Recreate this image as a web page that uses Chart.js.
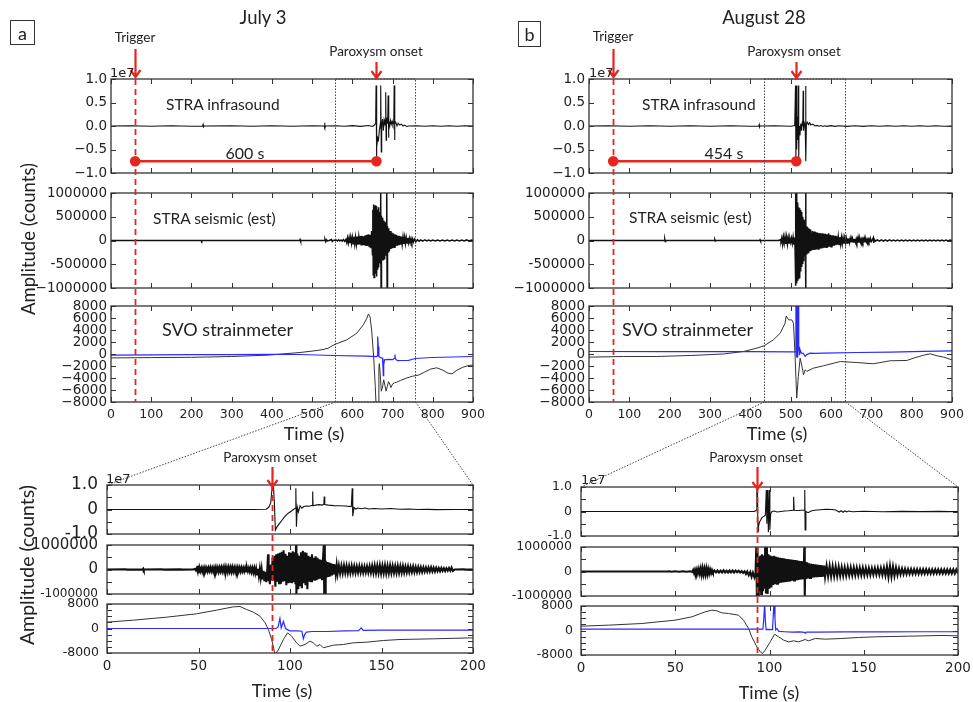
<!DOCTYPE html>
<html><head><meta charset="utf-8">
<script src="https://cdn.jsdelivr.net/npm/chart.js@4.4.0/dist/chart.umd.min.js"></script>
<style>
html,body{margin:0;padding:0;background:#fff;}
#fig{position:relative;width:973px;height:702px;overflow:hidden;background:#fff;font-family:Lato,sans-serif;color:#222;}
#fig canvas{position:absolute;}
.t{position:absolute;white-space:nowrap;line-height:1;transform:translate(-50%,-50%);}
.l{position:absolute;white-space:nowrap;line-height:1;transform:translate(0,-50%);}
.r{position:absolute;white-space:nowrap;line-height:1;transform:translate(-50%,-50%) rotate(-90deg);}
.box{position:absolute;border:1.5px solid #333;box-sizing:border-box;text-align:center;font-size:18px;display:flex;align-items:center;justify-content:center;}
</style></head><body><div id="fig"></div>
<script>
// ================= DATA =================
// event times (s)
const trigJul = 60, onsetJul = 660, zoomJul = [557, 757], zoomOnsetJul = 90;
const trigAug = 60, onsetAug = 514, zoomAug = [434, 634], zoomOnsetAug = 93.5;
const markLevel = -0.75; // 1e7 counts, level of the red delay bar

// tick values / labels
const timeTicksTop = [0,100,200,300,400,500,600,700,800,900];
const timeTicksZoom = [0,50,100,150,200];
const infraTicks = [-1,-0.5,0,0.5,1];
const infraLabels = ['\u22121.0','\u22120.5','0.0','0.5','1.0'];
const seisTicks = [-1000000,-500000,0,500000,1000000];
const seisLabels = ['\u22121000000','-500000','0','500000','1000000'];
const strainTicks = [-8000,-6000,-4000,-2000,0,2000,4000,6000,8000];
const strainLabels = ['\u22128000','\u22126000','\u22124000','\u22122000','0','2000','4000','6000','8000'];
const infraZLabels = ['-1.0','','0','','1.0'];
const seisZLabels = ['-1000000','','0','','1000000'];
const strainZLabels = ['-8000','','','','0','','','','8000'];

// ---- July 3 : STRA infrasound [t s, 1e7 counts]
const infraJul = [[0,0],[50,0.004],[100,-0.004],[150,0.004],[200,-0.004],[228,0],[229,0.03],[230,-0.02],[232,0],[300,0.004],[350,-0.004],[400,0.004],[450,-0.004],[500,0.004],[530,0],[531,0.07],[532,-0.04],[534,0],[560,0.006],[580,-0.006],[600,0.008],[620,-0.008],[640,0.01],[650,-0.01],[655,0.02],[658,0.06],
[659,0.86],[660,-0.76],[661,-0.45],[663,-0.25],[665,-0.3],[667,-0.1],[669,0.02],[670,-0.05],[671,0.86],[672,-0.55],[673,0.0],[675,0.15],[677,-0.1],[679,0.14],[681,0.08],[682,0.12],[683,0.72],[684,-0.3],[685,0.18],[687,0.06],[688,0.12],[689,0.65],[690,-0.25],[691,0.12],[693,0.0],[695,0.12],[697,0.04],[699,0.1],[701,0.02],[703,0.08],[704,0.86],[705,-0.3],[706,0.05],[708,0.08],[711,0.0],[714,0.06],[718,0.02],[722,0.04],[726,0.0],[730,0.02],[735,-0.01],[740,0.0],[760,0.005],[780,-0.005],[800,0.005],[820,-0.005],[840,0.005],[860,-0.005],[880,0.005],[900,0]];

// ---- July 3 : STRA seismic [t s, 1000 counts]
const seisJul = [[0,0],[224,0],[225,18],[226,-18],[227,0],[469,0],[470,20],[471,-20],[472,0],[530,0],[532,25],[534,-25],[536,15],[538,-10],[542,0],[548,20],[550,-20],[552,0],[560,10],[563,-10],[566,15],[569,-12],[572,10],[575,-15],[578,20],[581,-18],[584,25],[586,-40],[588,55],[590,-50],[592,60],[594,-55],[596,70],[598,-60],[600,65],[602,-70],[604,80],[606,-75],[608,70],[610,-80],[612,85],[614,-90],[616,80],[618,-85],[620,95],[622,-90],[624,100],[626,-95],[628,90],[630,-105],[632,110],[634,-100],[636,120],[638,-110],[640,130],[642,-140],[644,120],[646,-160],[648,200],[650,-300],[651,650],[652,-720],[653,760],[654,-780],[655,700],[656,-620],[657,740],[658,-700],[659,720],[660,-760],[661,680],[662,-600],[663,650],[664,-550],[665,700],[666,-520],[667,600],[668,-480],[669,560],[670,-500],[671,1050],[671.5,-1050],[672,520],[673,-450],[674,480],[675,-420],[676,450],[677,-400],[678,420],[679,-380],[680,400],[681,-350],[682,380],[683,-320],[684,340],[685,-300],[686,1050],[686.5,-1050],[687,300],[688,-280],[689,260],[690,-250],[691,240],[692,-220],[694,200],[696,-180],[698,170],[700,-160],[702,150],[704,-140],[706,130],[708,-120],[710,120],[712,-110],[714,100],[716,-100],[718,95],[720,-90],[722,85],[724,-80],[726,75],[728,-70],[730,70],[732,-65],[734,60],[736,-55],[738,55],[740,-50],[742,45],[744,-45],[746,40],[748,-38],[750,35],[752,-32],[755,30],[758,-25],[762,20],[766,-15],[770,14],[775,-12],[780,12],[785,-10],[790,10],[795,-10],[800,10],[806,-9],[812,10],[818,-9],[824,9],[830,-10],[836,9],[842,-9],[848,9],[854,-8],[860,8],[866,-9],[872,8],[878,-8],[884,12],[890,-9],[896,8],[900,0]];

// ---- July 3 : SVO strainmeter [t s, counts]
const strainJulBlack = [[0,-650],[100,-600],[200,-550],[300,-420],[390,-190],[470,250],[512,580],[532,800],[535,950],[537,850],[557,1630],[586,2350],[611,3460],[627,4850],[636,5950],[640,6670],[644,6200],[648,4000],[653,-400],[657,-5400],[659,-8500],[664,-8500],[666,-2500],[667,-1600],[669,-3000],[672,-6200],[675,-5500],[678,-4300],[681,-5200],[684,-6200],[687,-5400],[690,-4600],[693,-5000],[696,-5600],[700,-5000],[705,-4800],[710,-4700],[720,-4400],[735,-4000],[750,-3700],[765,-3500],[780,-3000],[795,-2500],[810,-2300],[825,-2700],[838,-3200],[848,-3300],[860,-2700],[875,-2200],[890,-1900],[900,-1850]];
const strainJulBlue = [[0,-200],[100,-150],[200,-120],[300,-100],[400,-60],[470,-80],[553,-250],[636,-360],[660,-420],[662,-300],[663,2900],[664.5,1200],[666,-420],[670,-600],[675,-700],[676,-2000],[677,-3600],[678,-1800],[680,-970],[690,-900],[700,-950],[705,-700],[706,-100],[707,-800],[712,-1100],[720,-1080],[740,-1050],[756,-750],[797,-580],[850,-500],[899,-420]];

// ---- July 3 zoom (0-200 s)
const infraJulZ = [[0,0],[20,0.003],[40,-0.003],[60,0.003],[80,0],[87,0.01],[88.5,0.1],[89.5,0.28],[90.3,0.95],[91,0.9],[91.5,0.2],[92,-0.84],[92.8,-0.72],[94,-0.6],[95.5,-0.45],[97,-0.3],[99,-0.15],[101,-0.05],[102.8,0.05],[103.2,0.87],[103.5,-0.7],[104,0.1],[104.6,-0.1],[105.5,0.15],[106.5,0.05],[107.5,0.12],[109,0.14],[110.5,0.13],[112.2,0.17],[112.4,0.73],[112.6,0.15],[114,0.18],[116,0.2],[117.5,0.18],[118.5,0.22],[118.7,0.53],[119,0.2],[121,0.18],[124,0.16],[127,0.15],[130,0.14],[133.5,0.12],[134,0.87],[134.3,-0.27],[135,0.08],[136,0.02],[137,0.06],[139,0.03],[141,0.06],[143,0.02],[146,0.04],[150,0.02],[155,0.04],[160,0.01],[165,0.02],[170,0],[175,0.005],[180,-0.005],[190,0],[200,0]];
const seisJulZ = [[0,0],[10,5],[11,-5],[19.5,0],[19.8,30],[20.1,-30],[20.4,0],[30,5],[31,-5],[40,5],[41,-5],[47,0],
[48,20],[48.5,-30],[49,50],[49.5,-80],[49.8,150],[50.1,-150],[50.5,80],[51,-70],[51.5,60],[52,-80],[52.5,70],[53,-60],[53.5,80],[54,-70],[54.5,60],[55,-75],[55.5,70],[56,-60],[56.5,80],[57,-70],[57.5,65],[58,-80],[58.5,75],[59,-70],[59.5,90],[60,-80],[60.5,70],[61,-90],[61.5,80],[62,-70],[62.5,85],[63,-75],[63.5,80],[64,-90],[64.5,100],[65,-90],[65.5,80],[66,-100],[66.5,90],[67,-80],[67.5,85],[68,-95],[68.5,90],[69,-80],[69.5,75],[70,-90],[70.5,80],[71,-70],[71.5,85],[72,-80],[72.5,70],[73,-75],[73.5,80],[74,-70],[74.5,65],[75,-75],[75.5,70],[76,-80],[76.5,75],[77,-70],[77.5,60],[78,-80],[78.5,70],[79,-100],[79.5,60],
[80,-120],[80.5,50],[81,-150],[81.5,40],[82,-200],[82.5,30],[83,-260],[83.5,20],[84,-320],[84.5,0],[85,-400],[85.5,-50],[86,-480],[86.5,-100],[87,-520],[87.5,-150],[88,620],[88.3,-480],[88.7,-300],[89,-600],[89.5,200],[90,-450],
[90.5,480],[91,-450],[91.5,560],[92,-700],[92.5,620],[93,-500],[93.5,650],[94,-560],[94.5,680],[95,-580],[95.5,720],[96,-500],[96.5,780],[97,-480],[97.5,640],[98,-640],[98.5,560],[99,-560],[99.5,700],[100,-500],[100.5,680],[101,-560],[101.5,740],[102,-520],[102.5,700],[103,-600],[103.3,1050],[103.5,-1050],[104,650],[104.5,-800],[105,560],[105.5,-640],[106,700],[106.5,-760],[107,760],[107.5,-560],[108,700],[108.5,-640],[109,680],[109.5,-800],[110,560],[110.5,-500],[111,520],[111.5,-480],[112,620],[112.5,-450],[113,480],[113.5,-460],[114,540],[114.5,-440],[115,480],[115.5,-400],[116,420],[116.5,-380],[117,400],[117.5,-400],[118,380],[118.5,1050],[118.7,-1050],[119,1050],[119.2,-1050],[119.5,350],[120,-320],[120.5,300],[121,-300],[121.5,280],[122,-280],[122.5,250],[123,-240],[123.5,220],[124,-200],[124.5,200],[125,-180],[125.5,180],
[126,-170],[126.7,160],[127.4,-160],[128.1,150],[128.8,-150],[129.5,160],[130.2,-140],[130.9,150],[131.6,-150],[132.3,140],[133,-140],[133.7,150],[134.4,-130],[135.1,140],[135.8,-140],[136.5,130],[137.2,-130],[137.9,140],[138.6,-120],[139.3,130],[140,-130],[140.7,120],[141.4,-120],[142.1,130],[142.8,-120],[143.5,140],[144.2,-130],[144.9,150],[145.6,-140],[146.3,160],[147,-150],[147.7,160],[148.4,-150],[149.1,170],[149.8,-160],[150.5,160],[151.2,-150],[151.9,170],[152.6,-160],[153.3,150],[154,-150],[154.7,160],[155.4,-140],[156.1,150],[156.8,-140],[157.5,140],[158.2,-140],[158.9,150],[159.6,-140],[160.3,140],[161,-130],[161.7,140],[162.4,-130],[163.1,120],[163.8,-120],[164.5,130],[165.2,-120],[165.9,110],[166.6,-110],[167.3,120],[168,-110],[168.7,100],[169.4,-110],[170.1,100],[170.8,-100],[171.5,90],[172.2,-100],[172.9,90],[173.6,-90],[174.3,80],[175,-90],[175.7,80],[176.4,-80],[177.1,90],[177.8,-80],[178.5,70],[179.2,-80],[179.9,70],[180.6,-70],[181.3,60],[182,-70],[182.7,60],[183.4,-60],[184.1,50],[184.8,-60],[185.5,50],[186.2,-50],[186.9,60],[187.6,-50],[188.3,80],[189,-60],[190,0],[195,5],[196,-5],[200,0]];
const strainJulZBlack = [[0,2070],[14.4,2720],[32.6,3700],[49,4800],[59.9,6000],[69,7070],[72.7,7180],[76.3,6200],[80,5330],[83.6,4030],[86.4,1850],[88.2,-330],[90,-3590],[91.8,-8500],[93.6,-7000],[96.4,-3590],[98.7,-1410],[100.9,-2500],[103.6,-4680],[105.5,-5770],[108.2,-5220],[110.9,-4130],[112.8,-4680],[114.6,-5770],[116.4,-5220],[118.2,-6310],[120.1,-6000],[123.7,-5440],[129.2,-5220],[134.6,-4680],[141.9,-4460],[151,-3920],[160.1,-3590],[178.3,-3370],[200,-3050]];
const strainJulZBlue = [[0,0],[50,0],[92.4,0],[93.5,500],[94.5,3260],[95.2,200],[96.4,2290],[97.5,100],[98.2,-300],[100,-760],[104,-760],[106.5,-900],[107.3,-3370],[108,-2000],[109,-1200],[112,-980],[120,-980],[130,-760],[137.5,-700],[138.9,220],[140,-600],[150,-540],[170,-540],[200,-540]];

// ---- August 28 : STRA infrasound
const infraAug = [[0,0],[50,0.004],[100,-0.004],[150,0.004],[200,-0.004],[250,0.004],[300,-0.004],[350,0.004],[400,-0.004],[421,0],[422,0.03],[423,-0.02],[424,0],[460,0.005],[500,-0.005],[510,0.01],
[512,0.86],[513,-0.76],[514,0.86],[515,-0.5],[516,0.2],[518,-0.3],[519,0.86],[520,-0.7],[521,0.0],[523,-0.2],[525,0.05],[527,-0.1],[529,0.1],[530,0.0],[531,0.75],[532,-0.1],[534,0.06],[536,0.0],[537,0.85],[538,-0.75],[539,0.05],[541,0.08],[544,0.03],[547,0.07],[550,0.02],[555,0.04],[560,0.0],[565,0.012],[570,-0.006],[575,0.01],[580,-0.01],[585,0.006],[590,-0.008],[600,0.008],[610,-0.008],[620,0.006],[640,-0.008],[660,0.006],[680,-0.008],[700,0.006],[720,-0.006],[740,0.006],[760,-0.006],[780,0.006],[800,-0.006],[820,0.004],[840,-0.004],[860,0.004],[880,-0.004],[900,0]];
// ---- August 28 : STRA seismic (1000 counts)
const seisAug = [[0,0],[187,0],[188,20],[189,-20],[190,0],[311,0],[312,12],[313,-12],[314,0],[423,0],[424,15],[425,-15],[426,0],[470,0],[474,15],[476,-15],[478,60],[480,-80],[482,70],[484,-60],[486,80],[488,-70],[490,75],[492,-80],[494,60],[496,-50],[498,40],[500,-40],[502,50],[504,-60],[506,70],[508,-90],[510,60],[511,-200],[512,1050],[513,-950],[514,1050],[515,-900],[516,800],[517,-850],[518,750],[519,-800],[520,700],[521,-780],[522,680],[523,-720],[524,640],[525,-650],[526,600],[527,-560],[528,560],[529,-480],[530,500],[531,-420],[532,450],[533,-360],[534,420],[535,-330],[536,380],[537,1050],[537.5,-1050],[538,320],[539,-280],[540,300],[541,-260],[542,280],[543,-250],[544,260],[545,-240],[546,240],[547,-230],[548,230],[549,-220],[550,220],[552,-210],[554,200],[556,-200],[558,190],[560,-200],[562,180],[564,-190],[566,170],[568,-180],[570,160],[572,-175],[574,150],[576,-170],[578,150],[580,-160],[582,145],[584,-150],[586,140],[588,-140],[590,130],[592,-140],[594,150],[596,-130],[598,120],[600,-130],[602,110],[604,-120],[606,110],[608,-110],[610,100],[612,-100],[614,90],[616,-90],[618,80],[620,-85],[622,70],[624,-75],[626,65],[628,-70],[630,60],[632,-65],[634,55],[636,-60],[638,50],
[640,-50],[641.5,45],[643,-42],[644.5,40],[646,-40],[647.5,38],[649,-38],[650.5,36],[652,-36],[653.5,35],[655,-34],[656.5,33],[658,-33],[659.5,32],[661,-32],[662.5,31],[664,-30],[665.5,30],[667,-30],[668.5,29],[670,-29],[671.5,28],[673,-28],[674.5,27],[676,-27],[677.5,26],[679,-26],[680.5,25],[682,-25],[683.5,25],[685,-24],[686.5,24],[688,-23],[689.5,23],[691,-22],[692.5,22],[694,-22],[695.5,21],[697,-21],[698.5,20],[700,-20],[703,25],[705,60],[706,-50],[707,30],[710,-15],[715,14],[720,-14],[725,13],[730,-13],[735,12],[740,-12],[745,12],[750,-11],[755,11],[760,-11],[765,11],[770,-10],[775,10],[780,-10],[785,10],[790,-10],[795,10],[800,-10],[805,10],[810,-9],[815,10],[820,-9],[825,9],[830,-9],[835,9],[840,-9],[845,9],[850,-9],[855,9],[860,-8],[865,8],[870,-8],[875,8],[880,-8],[885,8],[890,-8],[895,8],[900,0]];
// ---- August 28 : SVO strainmeter
const strainAugBlack = [[0,-525],[85,-415],[168,-415],[251,-250],[333,0],[383,415],[416,970],[434,1360],[457,2350],[474,3460],[486,5120],[489,6340],[495,5700],[503,5670],[507,5120],[511,-415],[515,-7340],[519,-3740],[523.5,-690],[528,-2080],[532,-3460],[536,-2630],[540,-2900],[548,-2630],[557,-2350],[581.5,-1960],[623,-1250],[664,-1420],[705,-1630],[747,-1130],[788,-1080],[805,-690],[830,-190],[846,30],[863,-300],[879,-520],[900,-970]];
const strainAugBlue = [[0,415],[200,400],[400,380],[500,370],[511,350],[513,9000],[514,-500],[515,9000],[516,200],[517,9000],[518,-600],[519,9000],[520,500],[521,1200],[522,-200],[524,600],[527,140],[531,100],[536,-400],[540,-100],[548,150],[560,100],[581,140],[664,250],[747,300],[830,450],[900,525]];

// ---- August 28 zoom (0-200 s)
const infraAugZ = [[0,0],[20,0.003],[40,-0.003],[60,0.003],[80,-0.003],[92,0],[93,0.05],[93.3,0.9],[93.6,0.88],[93.9,-0.8],[94.2,-0.6],[94.6,-0.45],[95.3,-0.35],[96,-0.25],[97,-0.2],[97.8,-0.15],[98.3,0.88],[98.6,-0.5],[99,0.88],[99.4,-0.85],[99.8,0.88],[100.2,-0.75],[100.6,-0.1],[101.3,0.0],[102.5,0.02],[104,-0.02],[106,0.0],[108,0.02],[110,0.03],[112.5,0.05],[112.8,0.6],[113.1,0.05],[115,0.04],[117,0.05],[118.5,0.06],[118.7,0.88],[118.9,-0.75],[119.3,0.0],[120.5,-0.05],[122,0.02],[124,0.05],[127,0.07],[130,0.09],[133,0.08],[135,0.06],[136,0.02],[137,-0.02],[138,0.03],[139,-0.03],[140,0.02],[141,-0.02],[142,0.02],[144,-0.01],[150,0.01],[160,-0.01],[170,0.005],[180,-0.005],[190,0.005],[195,-0.005],[200,0]];
const seisAugZ = [[0,0],[20,3],[21,-3],[40,3],[41,-3],[46,0],[47,8],[48,-8],[50,10],[52,-10],[54,8],[56,-10],[58,10],[59,-20],
[59.5,60],[60,-70],[60.5,80],[61,-60],[61.5,90],[62,-80],[62.5,100],[63,-90],[63.5,120],[64,-130],[64.5,130],[65,-120],[65.5,110],[66,-120],[66.5,130],[67,-110],[67.5,100],[68,-90],[68.5,80],[69,-70],[69.5,60],[70,-40],[70.8,40],[71.6,-35],[72.4,40],[73.2,-40],[74,35],[74.8,-40],[75.6,45],[76.4,-40],[77.2,35],[78,-40],[78.8,40],[79.6,-35],[80.4,40],[81.2,-40],[82,35],[82.8,-30],[83.6,30],[84.4,-40],[85.2,20],[86,-60],[86.8,10],[87.5,-100],[88.2,0],[89,-150],[89.8,-20],[90.5,-220],[91.2,-50],[92,-240],[92.6,-80],
[93,1050],[93.3,-1050],[93.6,1050],[93.9,-1050],[94.3,600],[94.7,-800],[95.2,650],[95.6,-920],[96,700],[96.5,-800],[97,650],[97.4,-700],[97.7,1050],[98.1,-900],[98.6,1050],[99,-920],[99.5,700],[100,-700],[100.5,650],[101,-650],[101.5,620],[102,-550],[102.5,640],[103,-520],[103.5,600],[104,-500],[104.5,580],[105,-480],[105.5,560],[106,-460],[106.5,550],[107,-450],[107.5,540],[108,-440],[108.5,520],[109,-430],[109.5,510],[110,-420],[110.5,500],[111,-410],[111.5,490],[112,-380],[112.5,480],[113,-370],[113.5,470],[114,-360],[114.5,460],[115,-350],[115.5,440],[116,-330],[116.5,430],[117,-320],[117.5,420],[118,-310],[118.5,1050],[118.7,-1050],[119,400],[119.5,-300],[120,380],[120.5,-280],[121,330],[121.5,-260],[122,320],[122.5,-250],[123,300],[123.5,-240],[124,290],[124.5,-230],[125,280],[125.5,-230],[126,270],[126.5,-220],[127,260],[127.5,-220],[128,250],[128.5,-210],[129,240],[129.5,-210],
[130.3,230],[131.1,-200],[131.9,220],[132.7,-200],[133.5,210],[134.3,-190],[135.1,200],[135.9,-190],[136.7,190],[137.5,-180],[138.3,180],[139.1,-175],[139.9,170],[140.7,-170],[141.5,170],[142.3,-160],[143.1,165],[143.9,-160],[144.7,160],[145.5,-155],[146.3,160],[147.1,-150],[147.9,155],[148.7,-150],[149.5,150],[150.3,-150],[151.1,145],[151.9,-140],[152.7,140],[153.5,-140],[154.3,135],[155.1,-130],[155.9,135],[156.7,-130],[157.5,140],[158.3,-130],[159.1,140],[159.9,-140],[160.7,150],[161.5,-160],[162.3,200],[163.1,-220],[163.9,230],[164.7,-210],[165.5,200],[166.3,-180],[167.1,160],[167.9,-140],[168.7,130],[169.5,-120],[170.3,120],[171.1,-110],[171.9,110],[172.7,-110],[173.5,100],[174.3,-100],[175.1,100],[175.9,-100],[176.7,95],[177.5,-95],[178.3,95],[179.1,-95],[179.9,90],[180.7,-90],[181.5,90],[182.3,-90],[183.1,90],[183.9,-85],[184.7,85],[185.5,-85],[186.3,85],[187.1,-85],[187.9,85],[188.7,-80],[189.5,85],[190.3,-80],[191.1,80],[191.9,-80],[192.7,80],[193.5,-80],[194.3,80],[195.1,-80],[195.9,80],[196.7,-80],[197.5,80],[198.3,-80],[199.1,80],[200,-80]];
const strainAugZBlack = [[0,1414],[14.5,1740],[32.2,2280],[49.9,3370],[58.8,4460],[65.9,6090],[69.4,6640],[72.1,6420],[74.7,5770],[78.2,5550],[83.6,5000],[86.2,3370],[88.9,650],[90.6,-2070],[93.3,-5330],[95.1,-6970],[96.3,-7500],[97.7,-6420],[100.4,-3700],[102.7,-1200],[104.8,-2070],[107.5,-3150],[110.1,-3700],[112.8,-3370],[115.4,-3700],[118.9,-2940],[120.7,-3370],[124.3,-2610],[129.6,-2830],[138.4,-2610],[147.3,-2280],[156.1,-2070],[173.8,-1850],[191.5,-1630],[200,-1740]];
const strainAugZBlue = [[0,450],[50,450],[96.5,430],[97,4000],[97.4,9000],[97.8,3000],[98.2,300],[99,350],[101.6,300],[102,5000],[102.4,9000],[102.9,4000],[103.3,200],[104,600],[105,-300],[108,-400],[112,-500],[116,-450],[118.5,-600],[119,-900],[119.5,-500],[125,-500],[140,-450],[160,-450],[180,-400],[200,-400]];

// ================= DRAWING =================
const RED = '#e5261f', BLUE = '#2a2aff';
const FIG = document.getElementById('fig');
const P = a => a.map(p => ({x: p[0], y: p[1]}));
const K = a => a.map(p => ({x: p[0], y: p[1] * 1000}));
const ln = (data, color, w) => ({data, borderColor: color, borderWidth: w, pointRadius: 0, fill: false, tension: 0});
const bar = (t0, t1) => ({data: P([[t0, markLevel], [t1, markLevel]]), borderColor: RED, borderWidth: 2.6, pointRadius: 4, pointBackgroundColor: RED, pointBorderColor: RED, fill: false, tension: 0});

const framePlugin = {
  id: 'frame',
  afterDatasetsDraw(ch) {
    const {ctx, chartArea: a, scales: {x, y}} = ch;
    ctx.save();
    ctx.strokeStyle = '#333'; ctx.lineWidth = 1.3;
    ctx.strokeRect(a.left, a.top, a.right - a.left, a.bottom - a.top);
    ctx.lineWidth = 1; const L = 5;
    ctx.beginPath();
    x.ticks.forEach(t => { const p = Math.round(x.getPixelForValue(t.value)) + 0.5;
      ctx.moveTo(p, a.bottom); ctx.lineTo(p, a.bottom - L); ctx.moveTo(p, a.top); ctx.lineTo(p, a.top + L); });
    y.ticks.forEach(t => { const p = Math.round(y.getPixelForValue(t.value)) + 0.5;
      ctx.moveTo(a.left, p); ctx.lineTo(a.left + L, p); ctx.moveTo(a.right, p); ctx.lineTo(a.right - L, p); });
    ctx.stroke();
    ctx.restore();
  }
};

const YW = 112, PT = 26, PR = 24;
function makePanel(box, cfg) {
  const PB = cfg.xLabels ? 32 : 26;
  const c = document.createElement('canvas');
  const W = box[2] + YW + PR, H = box[3] + PT + PB;
  c.width = W; c.height = H;
  c.style.left = (box[0] - YW) + 'px'; c.style.top = (box[1] - PT) + 'px';
  c.style.width = W + 'px'; c.style.height = H + 'px';
  FIG.appendChild(c);
  const ch = new Chart(c, {
    type: 'line',
    data: {datasets: cfg.datasets},
    options: {
      responsive: false, animation: false, devicePixelRatio: 1, events: [],
      layout: {padding: {top: PT, right: PR, bottom: 0, left: 0}},
      plugins: {legend: {display: false}, tooltip: {enabled: false}},
      scales: {
        x: {type: 'linear', min: cfg.xTicks[0], max: cfg.xTicks[cfg.xTicks.length - 1],
          grid: {display: false, drawTicks: false}, border: {display: false},
          ticks: {display: !!cfg.xLabels, autoSkip: false, maxRotation: 0, minRotation: 0, padding: cfg.xPad || 5, color: '#222',
            font: cfg.xFont || {family: 'DejaVu Sans', size: 12.5}, callback: v => String(v)},
          afterBuildTicks: s => { s.ticks = cfg.xTicks.map(v => ({value: v})); },
          afterFit: s => { s.height = PB; }},
        y: {type: 'linear', min: cfg.yTicks[0], max: cfg.yTicks[cfg.yTicks.length - 1],
          grid: {display: false, drawTicks: false}, border: {display: false},
          ticks: {autoSkip: false, padding: cfg.yPad || 4, color: '#222',
            font: cfg.yFont || {family: 'DejaVu Sans', size: 13.5}, callback: (v, i) => cfg.yLabels[i]},
          afterBuildTicks: s => { s.ticks = cfg.yTicks.map(v => ({value: v})); },
          afterFit: s => { s.width = YW; }}
      }
    },
    plugins: [framePlugin]
  });
  ch.$left = box[0] - YW; ch.$top = box[1] - PT;
  return ch;
}

function column(o) {
  const [x, w, bx, bw, by] = o.geom;
  const p1 = makePanel([x, 79, w, 94], {datasets: [bar(o.trig, o.onset), ln(P(o.infra), '#111', 1.1)], xTicks: timeTicksTop, yTicks: infraTicks, yLabels: infraLabels});
  const p2 = makePanel([x, 193, w, 95], {datasets: [ln(K(o.seis), '#111', 1.5)], xTicks: timeTicksTop, yTicks: seisTicks, yLabels: seisLabels});
  const p3 = makePanel([x, 306, w, 96], {datasets: [ln(P(o.blue), BLUE, 1.2), ln(P(o.black), '#333', 1)], xTicks: timeTicksTop, yTicks: strainTicks, yLabels: strainLabels, xLabels: true});
  const fz = o.zf;
  const b1 = makePanel([bx, by[0], bw, 49], {datasets: [ln(P(o.infraZ), '#111', 1.1)], xTicks: timeTicksZoom, yTicks: infraTicks, yLabels: infraZLabels, yPad: 9, yFont: {family: 'DejaVu Sans', size: fz[0]}});
  const b2 = makePanel([bx, by[1], bw, 49], {datasets: [ln(K(o.seisZ), '#111', 2.1)], xTicks: timeTicksZoom, yTicks: seisTicks, yLabels: seisZLabels, yPad: 9,
    yFont: ctx => ({family: 'DejaVu Sans', size: (ctx.tick && ctx.tick.value < 0) ? fz[2] : fz[1]})});
  const b3 = makePanel([bx, by[2], bw, 49], {datasets: [ln(P(o.blueZ), BLUE, 1.2), ln(P(o.blackZ), '#333', 1)], xTicks: timeTicksZoom, yTicks: strainTicks, yLabels: strainZLabels, yPad: 8,
    yFont: {family: 'DejaVu Sans', size: fz[3]}, xLabels: true, xPad: 5, xFont: {family: 'DejaVu Sans', size: 13.5}});
  return {p1, p2, p3, b1, b2, b3, o};
}

const colA = column({geom: [111, 362, 107, 366, [485, 545, 604]], trig: trigJul, onset: onsetJul, zoom: zoomJul, zOnset: zoomOnsetJul,
  infra: infraJul, seis: seisJul, blue: strainJulBlue, black: strainJulBlack,
  infraZ: infraJulZ, seisZ: seisJulZ, blueZ: strainJulZBlue, blackZ: strainJulZBlack, zf: [17, 15, 12, 12.5]});
const colB = column({geom: [589, 363, 581, 377, [487, 547, 606]], trig: trigAug, onset: onsetAug, zoom: zoomAug, zOnset: zoomOnsetAug,
  infra: infraAug, seis: seisAug, blue: strainAugBlue, black: strainAugBlack,
  infraZ: infraAugZ, seisZ: seisAugZ, blueZ: strainAugZBlue, blackZ: strainAugZBlack, zf: [12.5, 12.5, 12.5, 12.5]});

// ---- overlay annotations (positions from the chart scales)
const ov = document.createElement('canvas');
ov.width = 973; ov.height = 702; ov.style.left = '0px'; ov.style.top = '0px'; ov.style.width = '973px'; ov.style.height = '702px';
FIG.appendChild(ov);
const g = ov.getContext('2d');
const X = (ch, v) => ch.$left + ch.scales.x.getPixelForValue(v);
const TOP = ch => ch.$top + ch.chartArea.top;
const BOT = ch => ch.$top + ch.chartArea.bottom;
const LEFT = ch => ch.$left + ch.chartArea.left;
const RIGHT = ch => ch.$left + ch.chartArea.right;
function arrow(x, y0, y1) {
  g.save(); g.strokeStyle = RED; g.lineWidth = 2.2; g.setLineDash([]);
  g.beginPath(); g.moveTo(x, y0); g.lineTo(x, y1 - 1);
  g.moveTo(x - 5, y1 - 7); g.lineTo(x, y1); g.lineTo(x + 5, y1 - 7); g.stroke(); g.restore();
}
function dashV(x, y0, y1) {
  g.save(); g.strokeStyle = RED; g.lineWidth = 1.8; g.setLineDash([6, 4]);
  g.beginPath(); g.moveTo(x, y0); g.lineTo(x, y1); g.stroke(); g.restore();
}
[colA, colB].forEach(c => {
  const o = c.o;
  const xt = Math.round(X(c.p1, o.trig)) + 0.5;
  dashV(xt, TOP(c.p1), BOT(c.p3));
  arrow(xt, 49, 77);
  arrow(Math.round(X(c.p1, o.onset)) + 0.5, 62, 78);
  const xz = Math.round(X(c.b1, o.zOnset)) + 0.5;
  dashV(xz, TOP(c.b1), BOT(c.b3));
  arrow(xz, 467, TOP(c.b1) + 2);
  // zoom box + connectors
  g.save(); g.strokeStyle = '#444'; g.lineWidth = 1; g.setLineDash([1.5, 1.5]);
  const z0 = Math.round(X(c.p1, o.zoom[0])) + 0.5, z1 = Math.round(X(c.p1, o.zoom[1])) + 0.5;
  g.strokeRect(z0, TOP(c.p1), z1 - z0, BOT(c.p3) - TOP(c.p1));
  g.beginPath();
  g.moveTo(z0, BOT(c.p3)); g.lineTo(LEFT(c.b1), TOP(c.b1));
  g.moveTo(z1, BOT(c.p3)); g.lineTo(RIGHT(c.b1), TOP(c.b1));
  g.stroke(); g.restore();
});

// ---- texts
function txt(s, x, y, size, cls, extra) {
  const d = document.createElement('div'); d.className = cls || 't'; d.textContent = s;
  d.style.left = x + 'px'; d.style.top = y + 'px'; d.style.fontSize = size + 'px';
  if (extra) Object.assign(d.style, extra);
  FIG.appendChild(d); return d;
}
const box = (s, x, y, w, h) => { const d = document.createElement('div'); d.className = 'box'; d.textContent = s;
  Object.assign(d.style, {left: x + 'px', top: y + 'px', width: w + 'px', height: h + 'px'}); FIG.appendChild(d); };
box('a', 10, 20, 25, 25); box('b', 518, 21, 23, 26);
txt('July 3', 263, 17, 18.5); txt('August 28', 764, 17, 18.5);
txt('Trigger', 135, 38, 13.5); txt('Trigger', 613, 37, 13.5);
txt('Paroxysm onset', 376, 52, 13.5); txt('Paroxysm onset', 794, 52, 13.5);
txt('Paroxysm onset', 270, 458, 13.5); txt('Paroxysm onset', 756, 458, 13.5);
const dj = {fontFamily: 'DejaVu Sans'};
txt('1e7', 110, 72, 13, 'l', dj); txt('1e7', 589, 72, 13, 'l', dj);
txt('1e7', 106, 478, 13, 'l', dj); txt('1e7', 581, 479, 13, 'l', dj);
txt('STRA infrasound', 166, 105, 15.5, 'l'); txt('STRA infrasound', 642, 105, 15.5, 'l');
txt((onsetJul - trigJul) + ' s', 245, 153, 16); txt((onsetAug - trigAug) + ' s', 724, 153, 16);
txt('STRA seismic (est)', 153, 219, 15.5, 'l'); txt('STRA seismic (est)', 629, 218, 15.5, 'l');
txt('SVO strainmeter', 162, 329, 18, 'l'); txt('SVO strainmeter', 622, 329, 18, 'l');
txt('Amplitude (counts)', 28, 239, 18.5, 'r'); txt('Amplitude (counts)', 27, 565, 19.5, 'r');
txt('Time (s)', 314, 433, 18); txt('Time (s)', 777, 433, 18);
txt('Time (s)', 282, 690, 18); txt('Time (s)', 769, 692, 18);
</script></body></html>
